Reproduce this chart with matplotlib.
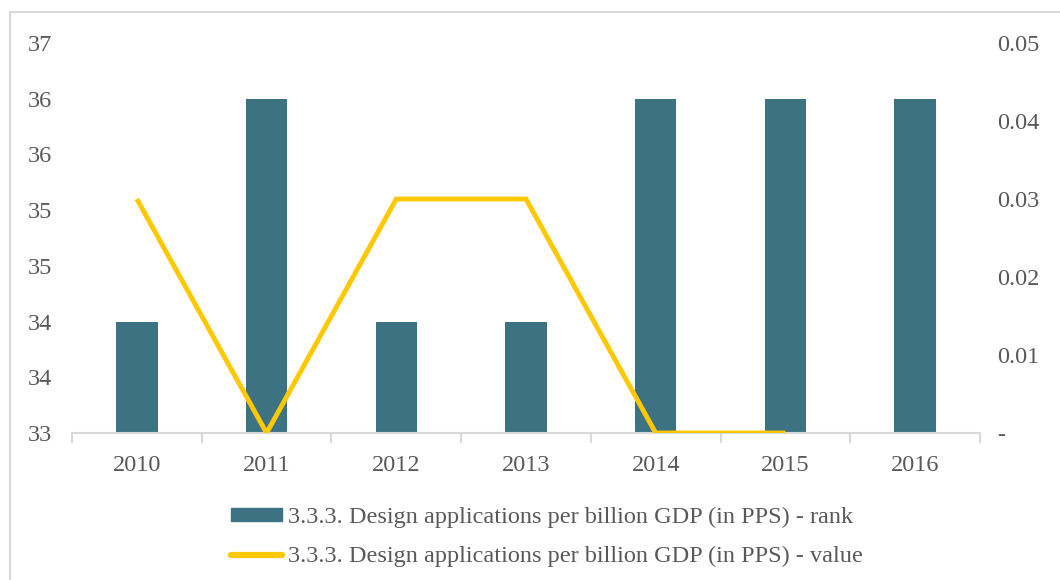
import math
import numpy as np
import matplotlib
matplotlib.use("Agg")
import matplotlib.pyplot as plt
from matplotlib.lines import Line2D
from matplotlib.ticker import FixedLocator, FuncFormatter

years = ["2010", "2011", "2012", "2013", "2014", "2015", "2016"]
rank = [34, 36, 34, 34, 36, 36, 36]
value = [0.03, 0.0, 0.03, 0.03, 0.0, 0.0, np.nan]

rank_label = "3.3.3. Design applications per billion GDP (in PPS) - rank"
value_label = "3.3.3. Design applications per billion GDP (in PPS) - value"

bar_color = "#3d7282"
line_color = "#ffc800"
text_color = "#595959"
axis_gray = "#d9d9d9"

plt.rcParams["font.family"] = ["Liberation Serif", "DejaVu Serif"]
plt.rcParams["font.size"] = 17.5

fig = plt.figure(figsize=(10.6, 5.8), dpi=100)
ax = fig.add_axes([72 / 1060, 1 - 433 / 580, (980 - 72) / 1060, (433 - 43) / 580])

x = np.arange(len(years))
ax.bar(x, rank, width=0.32, color=bar_color, zorder=2)
ax.set_xlim(-0.5, len(years) - 0.5)
ax.set_ylim(33, 36.5)
ax.yaxis.set_major_locator(FixedLocator(np.arange(33, 36.51, 0.5)))
ax.yaxis.set_major_formatter(FuncFormatter(lambda v, p: f"{math.floor(v + 0.5):d}"))
ax.tick_params(axis="y", length=0, pad=14, labelcolor=text_color)

ax.set_xticks(x)
ax.set_xticklabels(years)
ax.set_xticks(np.arange(-0.5, len(years), 1.0), minor=True)
ax.tick_params(axis="x", which="major", length=0, pad=16, labelcolor=text_color)
ax.tick_params(axis="x", which="minor", length=7, width=1.5, color=axis_gray)

for s in ("left", "right", "top"):
    ax.spines[s].set_visible(False)
ax.spines["bottom"].set_color(axis_gray)
ax.spines["bottom"].set_linewidth(1.5)

ax2 = ax.twinx()
ax2.plot(x, value, color=line_color, linewidth=3.5, solid_capstyle="butt",
         solid_joinstyle="miter", zorder=3)
ax2.set_ylim(0, 0.05)
ax2.yaxis.set_major_locator(FixedLocator(np.arange(0, 0.0501, 0.01)))
ax2.yaxis.set_major_formatter(FuncFormatter(lambda v, p: "-" if abs(v) < 1e-9 else f"{v:.2f}"))
ax2.tick_params(axis="y", length=0, pad=12, labelcolor=text_color)
for s in ax2.spines.values():
    s.set_visible(False)

handles = [
    plt.Rectangle((0, 0), 1, 1, color=bar_color),
    Line2D([0], [0], color=line_color, linewidth=4.5, solid_capstyle="round"),
]
leg = fig.legend(handles, [rank_label, value_label], loc="upper center",
                 bbox_to_anchor=(0.516, 1 - 485 / 580), ncol=1, frameon=False,
                 handlelength=2.1, handleheight=0.45, handletextpad=0.27,
                 labelspacing=0.75, fontsize=17.5)
for t in leg.get_texts():
    t.set_color(text_color)

# light frame around the chart area
fig.add_artist(Line2D([10 / 1060, 10 / 1060], [0, 1 - 12 / 580], color=axis_gray, linewidth=1.5,
                      transform=fig.transFigure))
fig.add_artist(Line2D([10 / 1060, 1], [1 - 12 / 580, 1 - 12 / 580], color=axis_gray, linewidth=1.5,
                      transform=fig.transFigure))

fig.savefig("out.png", dpi=100)
